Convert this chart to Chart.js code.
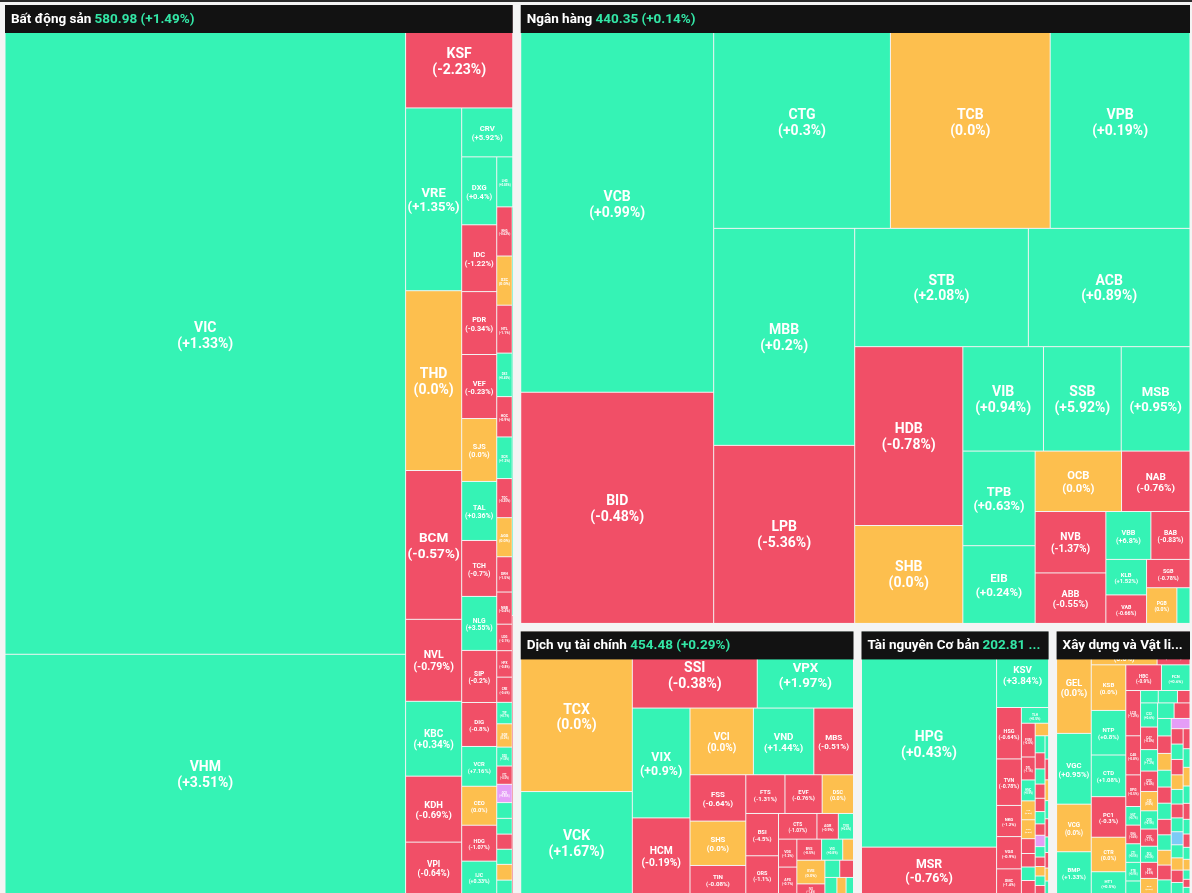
<!DOCTYPE html>
<html>
<head>
<meta charset="utf-8">
<script src="https://cdn.jsdelivr.net/npm/chart.js@4.4.1/dist/chart.umd.min.js"></script>
<style>
    html, body { margin: 0; padding: 0; background: #f4f4f4; overflow: hidden; }
    #khung { width: 1192px; height: 893px; }
</style>
</head>
<body>
<div id="khung"><canvas id="ban-do" width="1192" height="893"></canvas></div>
<script>
// Ngành
const nganhTen = ['Bất động sản', 'Ngân hàng', 'Dịch vụ tài chính', 'Tài nguyên Cơ bản', 'Xây dựng và Vật liệu'];
const nganhChiSo = [580.98, 440.35, 454.48, 202.81, 731.25];
const nganhThayDoi = [1.49, 0.14, 0.29, 0.36, 0.42];

// Bất động sản
const bdsMa = ['VIC', 'VHM', 'KSF', 'VRE', 'THD', 'BCM', 'NVL', 'KBC', 'KDH', 'VPI', 'CRV',
    'DXG', 'IDC', 'PDR', 'VEF', 'SJS', 'TAL', 'TCH', 'NLG', 'SIP', 'DIG', 'VCR', 'CEO', 'HDG', 'IJC',
    'LHG', 'KHG', 'SZC', 'NTL', 'DXS', 'HQC', 'SCR', 'TDC', 'AGG', 'DRH', 'NBB', 'LDG', 'HPX', 'CRE',
    'TIP', 'SGR', 'D2D', 'ITC', 'QCG', 'NDN', 'VRC', 'PTL', 'HAR', 'CKG', 'TIG', 'API', 'NVT'];
const bdsGiaTri = [2664.8, 983.9, 113.0, 105.0, 103.3, 85.5, 47.1, 43.0, 37.9, 29.8, 25.6,
    24.4, 24.0, 22.6, 23.0, 22.6, 21.2, 20.1, 19.4, 18.7, 15.8, 14.3, 14.0, 12.9, 11.8,
    8.2, 7.8, 7.8, 7.6, 6.9, 6.4, 6.6, 6.2, 6.2, 5.6, 5.1, 4.2, 4.2, 4.0,
    3.4, 3.7, 3.0, 2.9, 2.9, 2.5, 2.5, 2.4, 2.4, 2.5, 2.2, 2.2, 1.5];
const bdsThayDoi = [1.33, 3.51, -2.23, 1.35, 0, -0.57, -0.79, 0.34, -0.69, -0.64, 5.92,
    0.4, -1.22, -0.34, -0.23, 0, 0.36, -0.7, 3.55, -0.2, -0.8, 7.16, 0, -1.07, 0.33,
    0.85, -0.62, 0, -1.1, 0.45, -0.9, 1.2, -0.35, 0, -1.5, -0.4, -2.1, -0.8, -0.6,
    0.7, 0, 1.8, -0.5, 9.95, 0.9, 2.4, -1.3, 0.6, 0, 0.3, 1.1, -0.7];

// Ngân hàng
const nhMa = ['VCB', 'BID', 'CTG', 'TCB', 'VPB', 'MBB', 'LPB', 'STB', 'ACB', 'HDB', 'SHB', 'VIB', 'SSB', 'MSB',
    'TPB', 'EIB', 'OCB', 'NAB', 'NVB', 'ABB', 'VBB', 'BAB', 'KLB', 'VAB', 'SGB', 'PGB', 'BVB'];
const nhGiaTri = [765.6, 457.0, 404.6, 365.7, 320.0, 313.6, 257.3, 210.5, 195.9, 198.2, 108.5, 86.3, 83.2, 73.6,
    70.1, 57.6, 53.5, 42.4, 44.5, 36.6, 22.1, 19.2, 14.8, 11.9, 12.6, 11.1, 4.8];
const nhThayDoi = [0.99, -0.48, 0.3, 0, 0.19, 0.2, -5.36, 2.08, 0.89, -0.78, 0, 0.94, 5.92, 0.95,
    0.63, 0.24, 0, -0.76, -1.37, -0.55, 6.8, -0.83, 1.52, -0.66, -0.78, 0, 0.42];

// Dịch vụ tài chính
const dvtcMa = ['TCX', 'VCK', 'SSI', 'VPX', 'VIX', 'HCM', 'VCI', 'VND', 'MBS', 'FSS', 'SHS', 'TIN', 'FTS', 'EVF',
    'DSC', 'BSI', 'ORS', 'CTS', 'AGR', 'TVS', 'VDS', 'APS', 'BVS', 'VIG', 'PSI', 'EVS', 'IVS', 'WSS',
    'HBS', 'TVB', 'APG', 'AAS'];
const dvtcGiaTri = [188.5, 120.6, 101.0, 77.8, 66.8, 46.3, 44.6, 42.5, 27.9, 27.3, 26.1, 16.8, 16.0, 15.2,
    12.8, 14.6, 13.2, 10.4, 5.8, 4.1, 5.4, 5.2, 5.5, 4.7, 2.4, 7.0, 3.0, 2.7,
    2.5, 2.1, 1.6, 1.3];
const dvtcThayDoi = [0, 1.67, -0.38, 1.97, 0.9, -0.19, 0, 1.44, -0.51, -0.64, 0, -0.08, -1.31, -0.76,
    0, -4.5, -1.1, -1.07, -0.9, 0.6, -1.2, -0.7, -0.5, 0.8, 0, 0, -1.4, 0.5,
    -0.3, 1.0, 0, 0.7];

// Tài nguyên Cơ bản
const tncbMa = ['HPG', 'MSR', 'KSV', 'HSG', 'TVN', 'NKG', 'VGS', 'SMC',
    'TLH', 'POM', 'DTL', 'HMC', 'TIS', 'VCA', 'BMC', 'MVB', 'TVD', 'THT', 'HLC', 'NBC', 'TC6', 'TDN',
    'KCB', 'BKC', 'MIC', 'AAH', 'DHC', 'HAP', 'VID', 'KSQ', 'TNI', 'SHI', 'HSV', 'TNB', 'VIF', 'GDA',
    'DNH', 'TMG', 'ACM', 'KVC', 'ITQ'];
const tncbGiaTri = [313, 68, 42.5, 13.7, 12.4, 8.3, 8.6, 6.7,
    4.6, 5.0, 3.4, 3.1, 2.8, 2.8, 2.2, 2.0, 2.0, 2.0, 1.8, 1.8, 1.7, 1.6,
    1.5, 1.4, 1.3, 1.2, 1.2, 1.1, 1.0, 1.0, 1.0, 0.9, 0.9, 0.8, 0.8, 0.7,
    0.7, 0.6, 0.6, 0.5, 0.5];
const tncbThayDoi = [0.43, -0.76, 3.84, -0.64, -0.78, -1.2, -0.9, -1.4,
    0.5, -0.6, -1.1, 0.9, 0, 0, -0.4, -2.0, 1.3, -0.8, 0, 0.7, -0.5, 2.1,
    -1.0, -0.3, 0.4, -0.9, 9.9, 1.5, -0.6, 0, 0.8, -1.7, 0.2, -0.4, 0, 1.1,
    -0.7, 0.6, -1.2, 0, 0.3];

// Xây dựng và Vật liệu
const xdMa = ['GEL', 'VGC', 'VCG', 'BMP', 'CII', 'HHV', 'KSB', 'NTP', 'CTD', 'PC1', 'CTR', 'HT1', 'HBC', 'FCN',
    'LCG', 'C4G', 'DPG', 'HUT', 'DHA', 'CTI', 'PTB', 'HTN', 'TCD', 'SCG', 'DTD',
    'C32', 'C47', 'C69', 'CDC', 'CIG', 'CKD', 'CSC', 'DC4', 'DIH', 'DLG', 'DXV', 'FIC', 'HAN', 'HID',
    'HMH', 'HVH', 'HVX', 'ICG', 'L14', 'L18', 'LGC', 'LIG', 'MCG', 'MDG', 'NHA', 'NTC', 'PHC', 'PVX',
    'QTC', 'S99', 'SC5', 'SCI', 'SD5', 'SD6', 'SJG', 'TCR', 'TDP', 'THG', 'TV2', 'UIC', 'VC1', 'VC2',
    'VC3', 'VC7', 'VCC', 'VGV', 'VMC', 'VPG'];
const xdGiaTri = [38.6, 26.8, 18.0, 16.0, 24.0, 12.0, 17.2, 16.8, 15.7, 15.3, 13.0, 8.4, 10.0, 8.0,
    7.3, 6.3, 5.1, 3.0, 3.0, 3.0, 3.0, 2.1, 2.4, 2.6, 1.7,
    4.5, 4.2, 4.0, 3.8, 3.6, 3.4, 3.2, 3.0, 3.0, 2.9, 2.8, 2.7, 2.6, 2.6,
    2.5, 2.5, 2.4, 2.4, 2.3, 2.3, 2.2, 2.2, 2.1, 2.1, 2.0, 2.0, 2.0, 1.9,
    1.9, 1.8, 1.8, 1.7, 1.7, 1.6, 1.6, 1.5, 1.5, 1.4, 1.4, 1.3, 1.2, 1.1,
    1.0, 0.9, 0.8, 0.7, 0.6, 0.5];
const xdThayDoi = [0, 0.95, 0, 1.33, 0, -0.5, 0, 0.8, 1.08, -0.3, 0, 0.5, -0.9, 0.6,
    -1.2, -0.8, -0.5, 0.7, -0.4, 0.5, 0.9, 0.4, 1.0, 0.3, -0.6,
    0.6, -0.8, 1.2, -0.4, 0, 0.9, -1.1, 0.3, -0.6, 0, 1.5, -0.2, 0.7, -0.9,
    0, 0.4, -1.3, 2.1, -0.5, 0.8, 0, -0.7, 0.5, 9.9, -0.3, 1.0, -1.6, 0,
    0.2, -0.4, 1.3, -9.9, 0.6, 0, -0.8, 0.9, -0.5, 0.3, 0, 1.1, -1.0, 0.4,
    -0.6, 0.7, 0, 0.5, -0.2, 1.4];

const nganhMa = [bdsMa, nhMa, dvtcMa, tncbMa, xdMa];
const nganhGiaTri = [bdsGiaTri, nhGiaTri, dvtcGiaTri, tncbGiaTri, xdGiaTri];
const nganhCoPhieuThayDoi = [bdsThayDoi, nhThayDoi, dvtcThayDoi, tncbThayDoi, xdThayDoi];

const MAU_TANG = '#35f3b5';
const MAU_GIAM = '#f14f67';
const MAU_DUNG = '#fdbf4e';
const MAU_TRAN = '#e59df7';
const MAU_SAN = '#7ccaf6';
const MAU_NEN_TIEU_DE = '#121212';
const MAU_CHU_XANH = '#33e6a6';

function mauTheoThayDoi(v) {
    if (v >= 9.8) return MAU_TRAN
    if (v <= -9.8) return MAU_SAN
    if (v > 0) return MAU_TANG
    if (v < 0) return MAU_GIAM
    return MAU_DUNG
}

function dinhDang(v) {
    if (v === 0) return '0.0%'
    return (v > 0 ? '+' : '') + v + '%'
}

/**
 * Chia một hình chữ nhật theo kiểu "squarified" xen kẽ hướng
 * (bắt đầu bằng cột dọc bên trái, sau đó hàng ngang phía trên...)
 */
function chiaO(x, y, w, h, giaTri) {
    const tong = giaTri.reduce((a, b) => a + b, 0)
    const k = (w * h) / tong
    const dienTich = giaTri.map(v => v * k)
    const ketQua = []
    let huong = 0
    let nhom = []
    let s = 0
    const tiLe = (a, b) => Math.max(a / b, b / a)

    function datNhom() {
        if (huong === 0) {
            const rong = s / h
            let yy = y
            nhom.forEach(a => { ketQua.push({ x: x, y: yy, w: rong, h: a / rong }); yy += a / rong })
            x += rong; w -= rong
        } else {
            const cao = s / w
            let xx = x
            nhom.forEach(a => { ketQua.push({ x: xx, y: y, w: a / cao, h: cao }); xx += a / cao })
            y += cao; h -= cao
        }
        huong = 1 - huong
    }

    dienTich.forEach(a => {
        if (nhom.length) {
            const p = nhom[nhom.length - 1]
            const canh = huong === 0 ? h : w
            const cu = tiLe(s / canh, p * canh / s)
            const moi = tiLe((s + a) / canh, p * canh / (s + a))
            if (moi > cu) {
                datNhom()
                nhom = []
                s = 0
            }
        }
        nhom.push(a)
        s += a
    })
    if (nhom.length) datNhom()
    return ketQua
}

function veTieuDe(ctx, x, y, w, ten, chiSo, td) {
    ctx.fillStyle = MAU_NEN_TIEU_DE
    ctx.fillRect(x, y, w, 28)
    ctx.font = 'bold 13.5px Roboto'
    ctx.textBaseline = 'middle'
    ctx.textAlign = 'left'
    const dau = ten + ' '
    const full = dau + chiSo.toFixed(2) + ' (' + dinhDang(td) + ')'
    const maxW = w - 12
    let chu = full
    let cat = false
    if (ctx.measureText(full).width > maxW) {
        let n = full.length
        while (n > 0 && ctx.measureText(full.slice(0, n) + '...').width > maxW) n--
        chu = full.slice(0, n)
        cat = true
    }
    const cy = y + 14.5
    let xx = x + 6
    const phan1 = chu.slice(0, dau.length)
    const phan2 = chu.slice(dau.length)
    ctx.fillStyle = '#ffffff'
    ctx.fillText(phan1, xx, cy)
    xx += ctx.measureText(phan1).width
    ctx.fillStyle = MAU_CHU_XANH
    ctx.fillText(phan2, xx, cy)
    xx += ctx.measureText(phan2).width
    if (cat) {
        ctx.fillStyle = phan2.length ? MAU_CHU_XANH : '#ffffff'
        ctx.fillText('...', xx, cy)
    }
}

const banDoNhiet = {
    id: 'banDoNhiet',
    afterDraw(chart) {
        const ctx = chart.ctx
        const sx = chart.scales.x
        const sy = chart.scales.y
        const px = v => sx.getPixelForValue(v)
        const py = v => sy.getPixelForValue(v)

        ctx.save()
        ctx.fillStyle = '#2c2c2c'
        ctx.fillRect(px(0), py(0), px(1192) - px(0), py(2) - py(0))

        const tongNganh = nganhGiaTri.map(arr => arr.reduce((a, b) => a + b, 0))
        const oNganh = chiaO(1, 1, 1193, 897, tongNganh)

        oNganh.forEach((o, i) => {
            const vung = { x: o.x + 4, y: o.y + 4, w: o.w - 8, h: o.h - 8 }
            const oCon = chiaO(vung.x, vung.y, vung.w, vung.h, nganhGiaTri[i])
            const ma = nganhMa[i]
            const td = nganhCoPhieuThayDoi[i]

            oCon.forEach((r, j) => {
                const x0 = px(r.x), x1 = px(r.x + r.w)
                const y0 = py(r.y), y1 = py(r.y + r.h)
                ctx.fillStyle = mauTheoThayDoi(td[j])
                ctx.fillRect(x0 + 0.5, y0 + 0.5, x1 - x0 - 1, y1 - y0 - 1)
            })

            ctx.textAlign = 'center'
            ctx.textBaseline = 'middle'
            ctx.fillStyle = '#ffffff'
            oCon.forEach((r, j) => {
                const x0 = px(r.x), x1 = px(r.x + r.w)
                const y0 = py(r.y), y1 = py(r.y + r.h)
                const w = x1 - x0, h = y1 - y0
                const dong1 = ma[j]
                const dong2 = '(' + dinhDang(td[j]) + ')'
                let fs = Math.min(14, 0.155 * Math.sqrt(w * h))
                ctx.font = 'bold ' + fs + 'px Roboto'
                const rongChu = Math.max(ctx.measureText(dong1).width, ctx.measureText(dong2).width)
                if (rongChu > w - 4) fs = fs * (w - 4) / rongChu
                if (fs < 2.5) return
                ctx.font = 'bold ' + fs.toFixed(2) + 'px Roboto'
                const biChe = Math.abs(r.y - vung.y) < 0.5
                const cy = (y0 + y1) / 2 + (biChe ? 6.5 : 1.5)
                const cx = (x0 + x1) / 2
                ctx.fillText(dong1, cx, cy - 0.57 * fs)
                ctx.fillText(dong2, cx, cy + 0.57 * fs)
            })

            veTieuDe(ctx, px(vung.x), py(vung.y), px(vung.x + vung.w) - px(vung.x),
                nganhTen[i], nganhChiSo[i], nganhThayDoi[i])
        })
        ctx.restore()
    }
}

const bieuDo = new Chart(document.getElementById('ban-do'), {
    type: 'scatter',
    data: { datasets: [{ data: [] }] },
    options: {
        responsive: false,
        animation: false,
        events: [],
        layout: { padding: 0 },
        plugins: {
            legend: { display: false },
            tooltip: { enabled: false }
        },
        scales: {
            x: { type: 'linear', min: 0, max: 1192, display: false },
            y: { type: 'linear', min: 0, max: 893, reverse: true, display: false }
        }
    },
    plugins: [banDoNhiet]
})
</script>
</body>
</html>
